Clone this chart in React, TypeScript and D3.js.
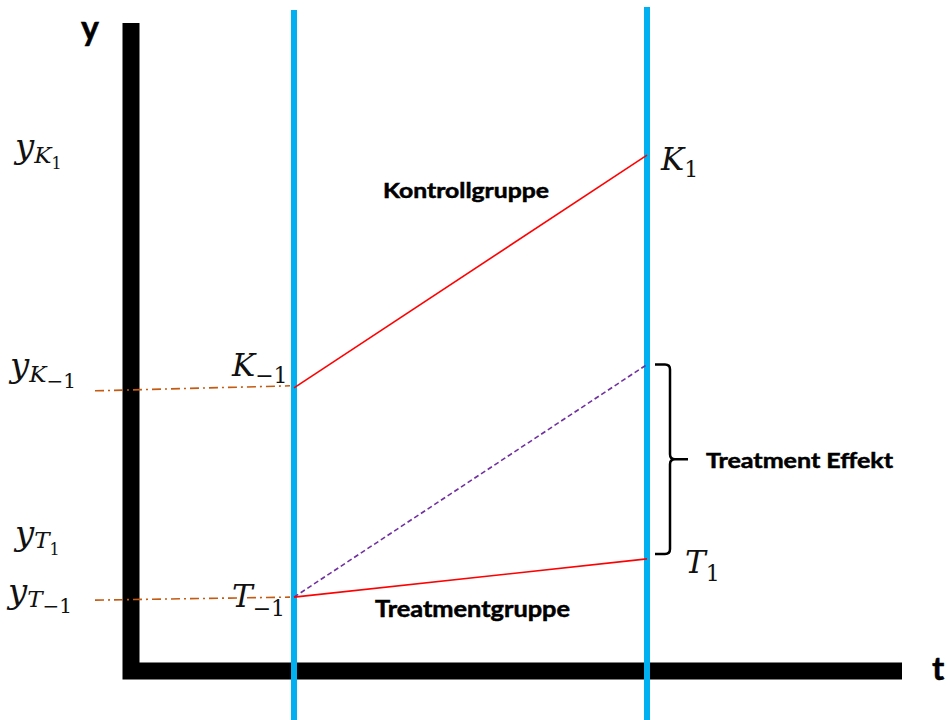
import React from "react";
import * as d3 from "d3";

// ---- data ----
const periods = [-1, 1]; // t = -1 (before), t = 1 (after)
const kontrollValues = [4.37, 7.96]; // K_-1, K_1
const treatmentValues = [1.14, 1.73]; // T_-1, T_1
const counterfactualValues = [1.14, 4.73]; // T_-1 + (K_1 - K_-1)
const groupLabels = ["Kontrollgruppe", "Treatmentgruppe"];
const effectLabel = "Treatment Effekt";
const axisLabels = ["y", "t"];

const W = 948;
const H = 720;

const xScale = d3.scaleLinear().domain([-1, 1]).range([294, 647]);
const yScale = d3.scaleLinear().domain([0, 10]).range([671, 23]);

const BLUE = "#00B0F0";
const RED = "#FF0000";
const PURPLE = "#7030A0";
const BROWN = "#C55A11";
const MATH = "'DejaVu Serif', 'Liberation Serif', serif";
const BOLD = "Lato, 'Open Sans', sans-serif";

type Sub = { text: string; size: number; dx?: number; dy: number };
function MathLabel({ x, y, main, mainSize, subs }: { x: number; y: number; main: string; mainSize: number; subs: Sub[] }) {
  return (
    <text x={x} y={y} fontFamily={MATH} fontStyle="italic" fontSize={mainSize} fill="#111">
      {main}
      {subs.map((s, i) => (
        <tspan key={i} fontSize={s.size} dx={s.dx ?? 0} dy={s.dy} fontStyle={/[0-9−]/.test(s.text) ? "normal" : "italic"}>
          {s.text}
        </tspan>
      ))}
    </text>
  );
}

export default function App() {
  const line = d3
    .line<[number, number]>()
    .x((d) => xScale(d[0]))
    .y((d) => yScale(d[1]));
  const kPts = periods.map((p, i) => [p, kontrollValues[i]] as [number, number]);
  const tPts = periods.map((p, i) => [p, treatmentValues[i]] as [number, number]);
  const cPts = periods.map((p, i) => [p, counterfactualValues[i]] as [number, number]);

  const x0 = xScale(-1);
  const x1 = xScale(1);
  const axisX = 131;
  const axisY = yScale(0);

  // brace
  const bx = x1 + 23;
  const bTop = yScale(counterfactualValues[1]);
  const bBot = yScale(treatmentValues[1]) - 5;
  const bMid = (bTop + bBot) / 2;
  const r = 5;
  const brace = `M${x1 + 8},${bTop} H${bx - r} Q${bx},${bTop} ${bx},${bTop + r} V${bMid - r} Q${bx},${bMid} ${bx + r},${bMid} H${bx + 18} M${bx + r},${bMid} Q${bx},${bMid} ${bx},${bMid + r} V${bBot - r} Q${bx},${bBot} ${bx - r},${bBot} H${x1 + 8}`;

  const refY1 = yScale(kontrollValues[0]);
  const refY2 = yScale(treatmentValues[0]);
  const boldStyle = { stroke: "#000", strokeWidth: 0.5 };

  return (
    <svg width={W} height={H} style={{ position: "absolute", left: 0, top: 0, background: "#fff" }}>
      {/* axes */}
      <path d={`M${axisX},23 V${axisY} H902`} fill="none" stroke="#000" strokeWidth={17} strokeLinejoin="miter" />
      {/* period lines */}
      <line x1={x0} x2={x0} y1={10} y2={H} stroke={BLUE} strokeWidth={6} />
      <line x1={x1} x2={x1} y1={7} y2={H} stroke={BLUE} strokeWidth={6} />
      {/* reference dash-dot lines */}
      <line x1={95} x2={x0 - 4} y1={refY1 + 3} y2={refY1 - 2} stroke={BROWN} strokeWidth={1.6} strokeDasharray="9,4,2,4" />
      <line x1={95} x2={x0 - 4} y1={refY2 + 3} y2={refY2} stroke={BROWN} strokeWidth={1.6} strokeDasharray="9,4,2,4" />
      {/* counterfactual */}
      <path d={line(cPts) ?? ""} fill="none" stroke={PURPLE} strokeWidth={1.6} strokeDasharray="5,3" />
      {/* groups */}
      <path d={line(kPts) ?? ""} fill="none" stroke={RED} strokeWidth={1.6} />
      <path d={line(tPts) ?? ""} fill="none" stroke={RED} strokeWidth={1.6} />
      {/* brace */}
      <path d={brace} fill="none" stroke="#000" strokeWidth={2.5} />

      {/* bold texts */}
      <text x={383} y={198} fontFamily={BOLD} fontWeight={700} fontSize={20} textLength={166} lengthAdjust="spacingAndGlyphs" {...boldStyle}>{groupLabels[0]}</text>
      <text x={375} y={617} fontFamily={BOLD} fontWeight={700} fontSize={22} textLength={195} lengthAdjust="spacingAndGlyphs" {...boldStyle}>{groupLabels[1]}</text>
      <text x={706} y={468} fontFamily={BOLD} fontWeight={700} fontSize={21} textLength={187} lengthAdjust="spacingAndGlyphs" {...boldStyle}>{effectLabel}</text>
      <text x={81} y={40} fontFamily={BOLD} fontWeight={700} fontSize={34} {...boldStyle}>{axisLabels[0]}</text>
      <text x={932} y={680} fontFamily={BOLD} fontWeight={700} fontSize={33} {...boldStyle}>{axisLabels[1]}</text>

      {/* math labels on axis */}
      <MathLabel x={15} y={158} main="y" mainSize={34} subs={[{ text: "K", size: 23, dy: 5 }, { text: "1", size: 16, dy: 6 }]} />
      <MathLabel x={10} y={377} main="y" mainSize={34} subs={[{ text: "K", size: 23, dy: 5 }, { text: "−1", size: 20, dy: 6 }]} />
      <MathLabel x={15} y={545} main="y" mainSize={34} subs={[{ text: "T", size: 23, dy: 3 }, { text: "1", size: 16, dy: 7 }]} />
      <MathLabel x={8} y={603} main="y" mainSize={34} subs={[{ text: "T", size: 23, dy: 4 }, { text: "−1", size: 20, dy: 6 }]} />

      {/* point labels */}
      <MathLabel x={x0 - 62} y={yScale(kontrollValues[0]) - 12} main="K" mainSize={31} subs={[{ text: "−1", size: 22, dy: 7 }]} />
      <MathLabel x={x0 - 62} y={yScale(treatmentValues[0]) + 10} main="T" mainSize={31} subs={[{ text: "−1", size: 22, dy: 9 }]} />
      <MathLabel x={x1 + 14} y={yScale(kontrollValues[1]) + 15} main="K" mainSize={31} subs={[{ text: "1", size: 22, dy: 7 }]} />
      <MathLabel x={x1 + 38} y={yScale(treatmentValues[1]) + 14} main="T" mainSize={31} subs={[{ text: "1", size: 22, dy: 8 }]} />
    </svg>
  );
}
